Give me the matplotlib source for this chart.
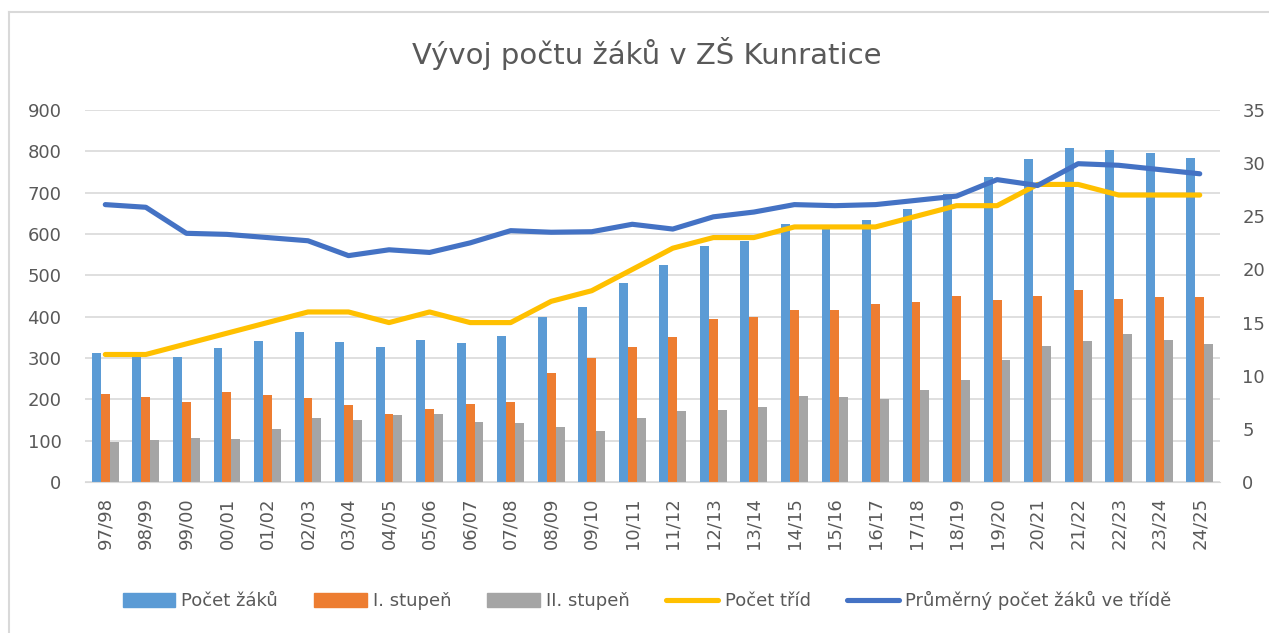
import numpy as np
import matplotlib
matplotlib.use("Agg")
import matplotlib.pyplot as plt
from matplotlib.patches import Patch
from matplotlib.lines import Line2D

years = ["97/98", "98/99", "99/00", "00/01", "01/02", "02/03", "03/04", "04/05",
         "05/06", "06/07", "07/08", "08/09", "09/10", "10/11", "11/12", "12/13",
         "13/14", "14/15", "15/16", "16/17", "17/18", "18/19", "19/20", "20/21",
         "21/22", "22/23", "23/24", "24/25"]
pocet_zaku = [311, 308, 303, 324, 342, 362, 339, 326, 344, 336, 354, 399, 424, 482,
              524, 572, 582, 625, 620, 633, 661, 698, 739, 781, 808, 804, 795, 783]
stupen_1 = [213, 205, 194, 219, 211, 203, 186, 164, 176, 189, 193, 264, 299, 326,
            350, 395, 400, 416, 416, 431, 436, 451, 441, 450, 465, 444, 448, 448]
stupen_2 = [96, 101, 106, 103, 129, 156, 150, 161, 165, 146, 142, 134, 123, 154,
            172, 174, 181, 208, 206, 201, 223, 246, 296, 328, 342, 358, 344, 334]
pocet_trid = [12, 12, 13, 14, 15, 16, 16, 15, 16, 15, 15, 17, 18, 20,
              22, 23, 23, 24, 24, 24, 25, 26, 26, 28, 28, 27, 27, 27]
prumer = [26.1, 25.85, 23.4, 23.3, 23.0, 22.7, 21.3, 21.85, 21.6, 22.5, 23.65, 23.5,
          23.55, 24.25, 23.8, 24.95, 25.4, 26.1, 26.0, 26.1, 26.5, 26.9, 28.45, 27.9,
          29.95, 29.8, 29.4, 29.0]

c_blue = "#5B9BD5"
c_orange = "#ED7D31"
c_grey = "#A5A5A5"
c_yellow = "#FFC000"
c_dblue = "#4472C4"
txt = "#595959"

fig = plt.figure(figsize=(12.69, 6.33), dpi=100)
ax = fig.add_axes([0.067, 0.2385, 0.8944, 0.5877])
ax2 = ax.twinx()

x = np.arange(len(years))
w = 0.22
ax.bar(x - w, pocet_zaku, w, color=c_blue, zorder=2)
ax.bar(x, stupen_1, w, color=c_orange, zorder=2)
ax.bar(x + w, stupen_2, w, color=c_grey, zorder=2)

ax2.plot(x, pocet_trid, color=c_yellow, lw=3.7, solid_capstyle="round", zorder=3)
ax2.plot(x, prumer, color=c_dblue, lw=3.7, solid_capstyle="round", zorder=3)

ax.set_xlim(-0.5, len(years) - 0.5)
ax.set_ylim(0, 900)
ax.set_yticks(range(0, 901, 100))
ax2.set_ylim(0, 35)
ax2.set_yticks(range(0, 36, 5))
ax.yaxis.grid(True, color="#D9D9D9", lw=1.2, zorder=0)
ax.set_axisbelow(True)

ax.set_xticks(x)
ax.set_xticklabels(years, rotation=90, fontsize=13, color=txt)
ax.tick_params(axis="y", labelsize=13, labelcolor=txt, length=0, pad=17)
ax2.tick_params(axis="y", labelsize=13, labelcolor=txt, length=0, pad=16)
ax.tick_params(axis="x", length=0, pad=11)
for a in (ax, ax2):
    for s in a.spines.values():
        s.set_visible(False)
ax.spines["bottom"].set_visible(True)
ax.spines["bottom"].set_color("#D9D9D9")

fig.text(0.51, 0.915, "Vývoj počtu žáků v ZŠ Kunratice", ha="center", va="center",
         fontsize=21, color=txt)

handles = [Patch(color=c_blue), Patch(color=c_orange), Patch(color=c_grey),
           Line2D([], [], color=c_yellow, lw=3.7, solid_capstyle="round"),
           Line2D([], [], color=c_dblue, lw=3.7, solid_capstyle="round")]
labels = ["Počet žáků", "I. stupeň", "II. stupeň", "Počet tříd",
          "Průměrný počet žáků ve třídě"]
fig.legend(handles, labels, loc="center", bbox_to_anchor=(0.51, 0.051), ncol=5,
           frameon=False, fontsize=13, labelcolor=txt, handlelength=2.9,
           handleheight=0.85, handletextpad=0.35, columnspacing=2.0)

# chart frame: only left and top edges visible in the screenshot
bx = 8.5 / 1269
by = 1 - 11.5 / 633
fig.add_artist(Line2D([bx, bx], [0, by], transform=fig.transFigure, color="#D9D9D9", lw=1.5))
fig.add_artist(Line2D([bx, 1], [by, by], transform=fig.transFigure, color="#D9D9D9", lw=1.5))

fig.savefig("out.png", dpi=100)
